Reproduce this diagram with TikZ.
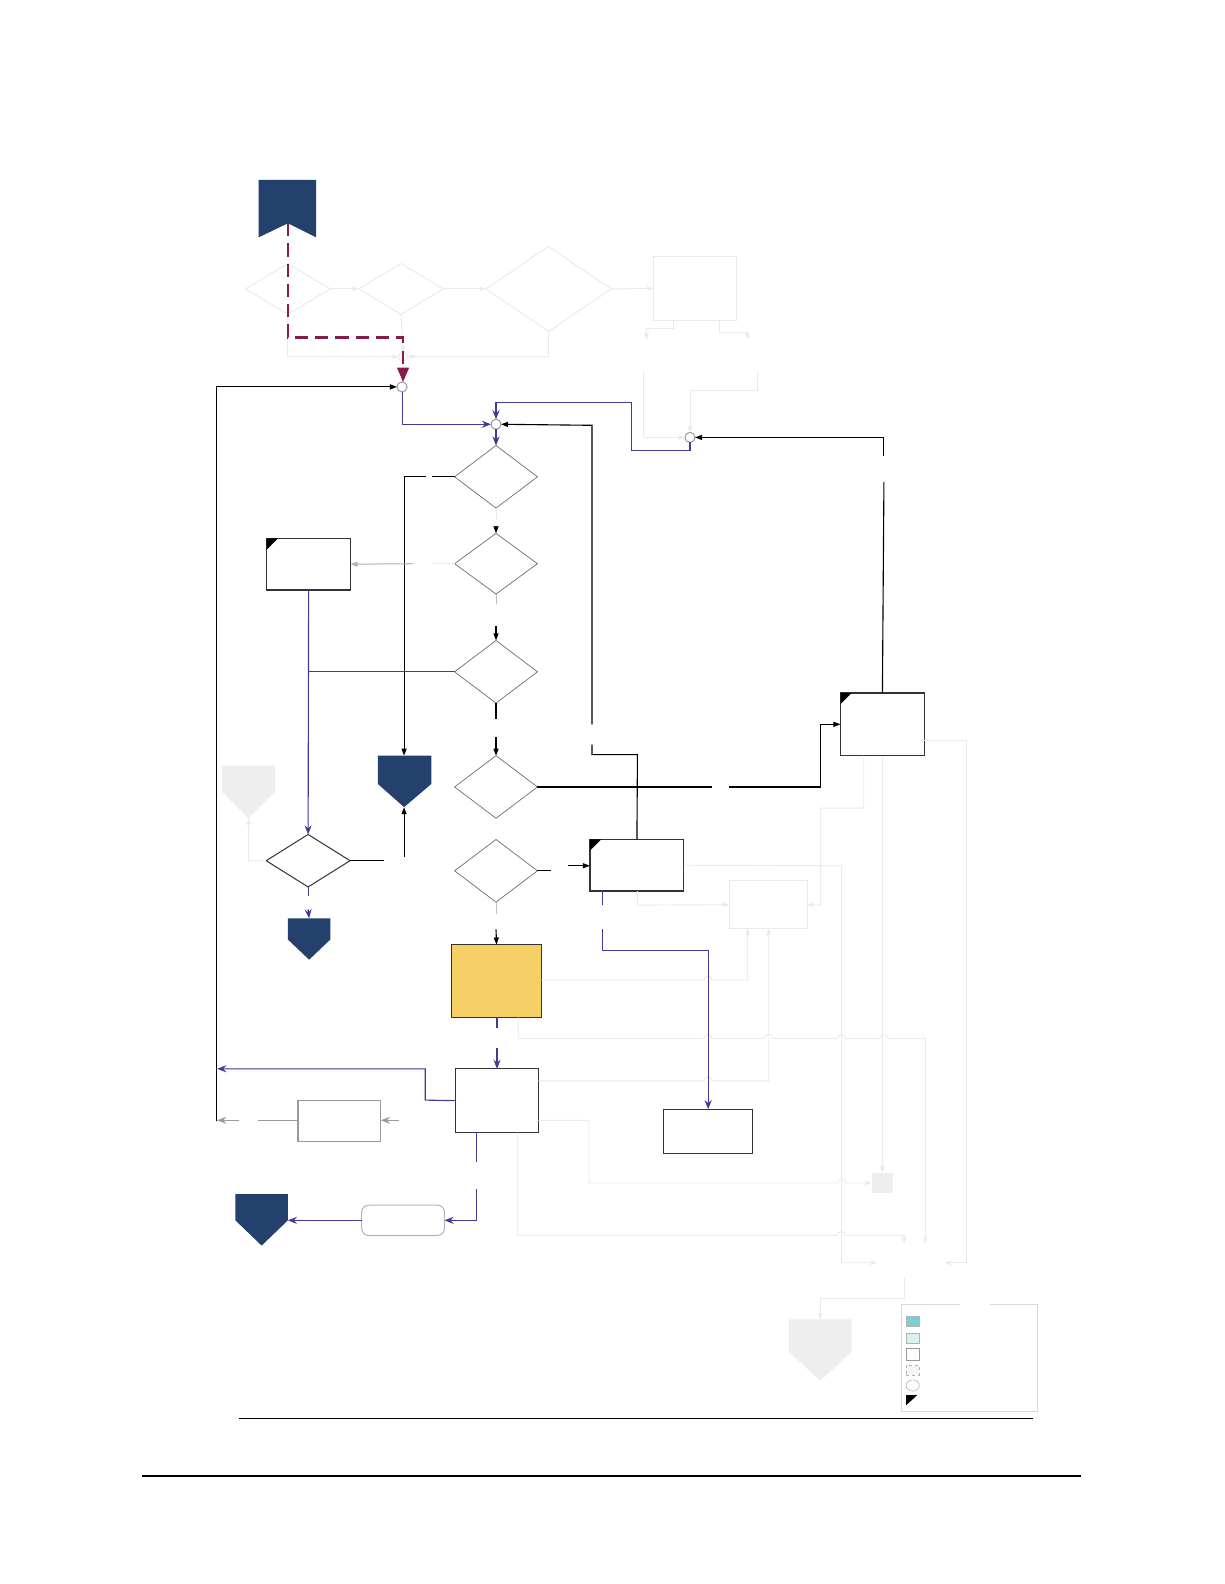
\documentclass[tikz,border=0pt]{standalone}
\usetikzlibrary{arrows.meta,shapes.geometric}
\definecolor{navyc}{HTML}{24406D}
\definecolor{maroonc}{HTML}{861B4C}
\definecolor{bluec}{HTML}{413B97}
\definecolor{yellowc}{HTML}{F5CE66}
\definecolor{faintc}{HTML}{EAEAEA}
\definecolor{boxc}{HTML}{333333}
\definecolor{diac}{HTML}{6E6E6E}
\definecolor{grayc}{HTML}{9A9A9A}
\definecolor{lightfill}{HTML}{EEEEEE}
\definecolor{tealc}{HTML}{7CCFCF}
\definecolor{ltealc}{HTML}{DCEFEF}
\newcommand\cmark[1]{\fill (#1.north west) -- ++(11,0) -- ++(-11,11) -- cycle;}
\begin{document}
\begin{tikzpicture}[x=1pt,y=-1pt,
  rbox/.style={rectangle, draw=boxc, line width=1.1pt, inner sep=0, outer sep=0, fill=white},
  dia/.style={diamond, draw=diac, line width=0.7pt, inner sep=0, outer sep=0},
  fdia/.style={diamond, draw=faintc, line width=0.9pt, inner sep=0, outer sep=0},
  fbox/.style={rectangle, draw=faintc, line width=0.9pt, inner sep=0, outer sep=0},
  junc/.style={circle, draw=grayc, fill=white, line width=1pt, minimum size=10pt, inner sep=0, outer sep=0},
  bline/.style={draw=bluec, line width=1.1pt},
  kline/.style={draw=black, line width=1.1pt},
  fline/.style={draw=faintc, line width=0.9pt},
  gline/.style={draw=grayc, line width=1.1pt},
  barrow/.style={-{Stealth[length=9pt,width=7pt,inset=3pt]}},
  karrow/.style={-{Triangle[length=7pt,width=5pt]}},
  farrow/.style={-{Stealth[length=7pt,width=5pt,inset=2pt]}}]
\useasboundingbox (0,0) rectangle (1212,1568);
\fill[white] (0,0) rectangle (1212,1568);

% ---------- top faint region ----------
\node[fdia, minimum width=84pt, minimum height=50pt] (A) at (285,286) {};
\node[fdia, minimum width=84pt, minimum height=50pt] (B) at (397,286) {};
\node[fdia, minimum width=124pt, minimum height=84pt] (C) at (543,286) {};
\node[fbox, minimum width=82pt, minimum height=63pt] (Dr) at (688,285.5) {};
\node[junc, draw=faintc, minimum size=9pt] (c0) at (399,353) {};
\draw[fline, farrow] (A.east) -- (B.west);
\draw[fline, farrow] (B.east) -- (C.west);
\draw[fline, farrow] (C.east) -- (Dr.west);
\draw[fline, farrow] (A.south) -- (285,353) -- (c0.west);
\draw[fline, farrow] (B.south) -- (c0.north);
\draw[fline, farrow] (C.south) -- (543,353) -- (c0.east);
\coordinate (dl) at (667,317);
\coordinate (dr) at (712,317);
\draw[fline, farrow] (dl) -- (667,325) -- (640,325) -- (640,336);
\draw[fline, farrow] (dr) -- (712,329) -- (740,329) -- (740,336);

% banner
\fill[navyc] (256,178) -- (313,178) -- (313,235) -- (285,221) -- (256,235) -- cycle;
\coordinate (ban) at (285,221);

% junctions
\node[junc] (c1) at (398,383) {};
\node[junc] (c2) at (491,420) {};
\node[junc] (c3) at (683,433) {};

\draw[fline, farrow] (637,368) -- (637,433) -- (c3.west);
\draw[fline, farrow] (750,368) -- (750,387) -- (683,387) -- (c3.north);

\draw[draw=maroonc, line width=2.6pt, dash pattern=on 13pt off 7pt] (ban) -- (285,334) -- (399,334) -- (399,366);
\fill[maroonc] (393,364) -- (405,364) -- (399,378) -- cycle;

% ---------- main column ----------
\node[dia, minimum width=82pt, minimum height=62pt] (D1) at (491,472) {};
\node[dia, minimum width=82pt, minimum height=60pt] (D2) at (491,558) {};
\node[dia, minimum width=82pt, minimum height=62pt] (D3) at (491,665) {};
\node[dia, minimum width=82pt, minimum height=62pt] (D5) at (491,779) {};
\node[dia, minimum width=82pt, minimum height=62pt] (D6) at (491,862) {};
\node[dia, draw=boxc, line width=1pt, minimum width=83pt, minimum height=52pt] (D4) at (305,852) {};

\node[rbox, minimum width=83pt, minimum height=51pt] (R1) at (305.5,558.5) {};
\node[rbox, minimum width=83pt, minimum height=62pt] (F) at (873.5,717) {};
\node[rbox, minimum width=93pt, minimum height=51pt] (G) at (630.5,856.5) {};
\node[rbox, fill=yellowc, minimum width=89pt, minimum height=72pt] (Y) at (491.5,971) {};
\node[rbox, minimum width=82pt, minimum height=63pt] (H) at (492,1089.5) {};
\node[rbox, minimum width=88pt, minimum height=44pt] (I) at (701,1120) {};
\node[rbox, draw=grayc, minimum width=82pt, minimum height=41pt] (R2) at (336,1109.5) {};
\node[rbox, draw=grayc!70, rounded corners=7pt, minimum width=82pt, minimum height=30pt] (RR) at (399,1208) {};
\node[fbox, minimum width=77pt, minimum height=47pt] (J) at (760.5,895.5) {};
\node[rectangle, fill=lightfill, inner sep=0, minimum width=21pt, minimum height=20pt] (S) at (873.5,1171) {};
\cmark{R1}
\cmark{F}
\cmark{G}

% pentagons
\fill[lightfill] (220,758) -- (272,758) -- (272,784) -- (246,810) -- (220,784) -- cycle;
\coordinate (p0) at (246,810);
\fill[navyc] (374,748) -- (427,748) -- (427,776) -- (400,799) -- (374,776) -- cycle;
\coordinate (p1top) at (400,748);
\coordinate (p1tip) at (400,799);
\fill[navyc] (285,909) -- (327,909) -- (327,930) -- (306,950) -- (285,930) -- cycle;
\coordinate (p2) at (306,909);
\fill[navyc] (233,1182) -- (285,1182) -- (285,1208) -- (259,1233) -- (233,1208) -- cycle;
\coordinate (p3) at (285,1208);
\fill[lightfill] (781,1306) -- (843,1306) -- (843,1338) -- (812,1367) -- (781,1338) -- cycle;
\coordinate (p4) at (812,1306);

% ---------- faint connectors (right) ----------
\draw[fline, farrow] (631,882) -- (631,896) -- (J.west);
\draw[fline, farrow] (855,748) -- (855,800) -- (812,800) -- (812,896) -- (J.east);
\draw[fline, farrow] (Y.east |- 0,970) -- (697,970) arc (180:0:4pt) -- (740,970) -- (740,919);
\draw[fline, farrow] (H.east |- 0,1070) -- (697,1070) arc (180:0:4pt) -- (761,1070) -- (761,919);
\draw[fline, farrow] (G.east) -- (833,857) -- (833,1250) -- (868,1250);
\draw[fline, farrow] (F.east |- 0,733) -- (957,733) -- (957,1250) -- (935,1250);
\draw[fline, farrow] (F.south) -- (S.north);
\draw[fline, farrow] (513,1007) -- (513,1028) -- (697,1028) arc (180:0:4pt) -- (757,1028) arc (180:0:4pt)
   -- (829,1028) arc (180:0:4pt) -- (871,1028) arc (180:0:4pt) -- (916,1028) -- (916,1231);
\draw[fline, farrow] (H.east |- 0,1109) -- (583,1109) -- (583,1171) -- (829,1171) arc (180:0:4pt) -- (S.west);
\draw[fline, farrow] (512,1121) -- (512,1223) -- (829,1223) arc (180:0:4pt) -- (895,1223) -- (895,1231);
\draw[fline, farrow] (895,1265) -- (895,1285) -- (812,1285) -- (p4);
\draw[fline, farrow] (D4.west) -- (246,852) -- (p0);

% ---------- black connectors ----------
\draw[kline, karrow] (214,1110) -- (214,383) -- (c1.west);
\draw[kline] (F.north) -- (875,477);
\draw[kline, karrow] (875,451) -- (875,433) -- (c3.east);
\draw[kline] (G.north) -- (631,747) -- (586,747) -- (586,737);
\draw[kline, karrow] (586,717) -- (586,421) -- (c2.east);
\draw[kline] (D1.west) -- (428,472);
\draw[kline, karrow] (422,472) -- (400,472) -- (p1top);
\draw[fline] (D1.south) -- (491,515);
\draw[kline, karrow] (491,521) -- (D2.north);
\draw[fline] (D2.west) -- (428,558);
\draw[draw=black!30, line width=1pt, karrow] (409,558) -- (R1.east);
\draw[draw=black!25, line width=1pt] (D2.south) -- (491,598);
\draw[kline, karrow] (491,620) -- (D3.north);
\draw[kline] (D3.south) -- (491,712);
\draw[kline, karrow] (491,730) -- (D5.north);
\draw[kline] (D5.east) -- (705,779);
\draw[kline, karrow] (722,779) -- (812,779) -- (812,717) -- (F.west);
\draw[kline] (D6.east) -- (545,862);
\draw[kline, karrow] (562,857) -- (G.west |- 0,857);
\draw[draw=black!25, line width=1pt] (D6.south) -- (491,905);
\draw[kline, karrow] (491,920) -- (Y.north);
\draw[kline] (D4.east) -- (380,852);
\draw[kline, karrow] (400,848) -- (p1tip);

% ---------- blue connectors ----------
\draw[bline, barrow] (c1.south) -- (398,420) -- (c2.west);
\draw[bline, barrow] (c3.south) -- (683,446) -- (625,446) -- (625,398) -- (491,398) -- (c2.north);
\draw[bline, barrow] (c2.south) -- (D1.north);
\draw[bline] (D3.west) -- (305,665);
\draw[bline, barrow] (R1.south) -- (D4.north);
\draw[bline] (D4.south) -- (305,887);
\draw[bline, barrow] (305,900) -- (p2);
\draw[bline] (596,882) -- (596,896);
\draw[bline, barrow] (596,920) -- (596,941) -- (701,941) -- (I.north);
\draw[bline] (492,1007) -- (492,1018);
\draw[bline, barrow] (492,1037) -- (H.north);
\draw[bline, barrow] (H.west) -- (421,1089) -- (421,1058) -- (215,1058);
\draw[bline] (472,1121) -- (472,1150);
\draw[bline, barrow] (472,1177) -- (472,1208) -- (RR.east);
\draw[bline, barrow] (RR.west) -- (p3);

% ---------- gray connectors ----------
\draw[gline, barrow] (395,1109) -- (R2.east |- 0,1109);
\draw[gline] (R2.west |- 0,1109) -- (255,1109);
\draw[gline, barrow] (237,1109) -- (215,1109);

% ---------- legend ----------
\draw[draw=black!15, line width=1pt] (950,1291) -- (892,1291) -- (892,1397) -- (1027,1397) -- (1027,1291) -- (980,1291);
\node[rectangle, draw=black!30, fill=tealc, inner sep=0, minimum width=13pt, minimum height=10pt] (L1) at (903.5,1308) {};
\node[rectangle, draw=black!30, fill=ltealc, inner sep=0, minimum width=13pt, minimum height=10pt] (L2) at (903.5,1325) {};
\node[rectangle, draw=black!40, fill=white, inner sep=0, minimum width=13pt, minimum height=11pt] (L3) at (903.5,1340.5) {};
\node[rectangle, draw=black!30, dashed, fill=black!4, inner sep=0, minimum width=13pt, minimum height=10pt] (L4) at (903.5,1356) {};
\node[ellipse, draw=black!40, inner sep=0, minimum width=13pt, minimum height=11pt] (L5) at (903.5,1371.5) {};
\fill[black] (897,1381) -- (908,1381) -- (897,1391) -- cycle;

% ---------- rules ----------
\draw[black, line width=1pt] (237,1404) -- (1023,1404);
\draw[black, line width=1.6pt] (141,1461) -- (1070,1461);
\end{tikzpicture}
\end{document}
